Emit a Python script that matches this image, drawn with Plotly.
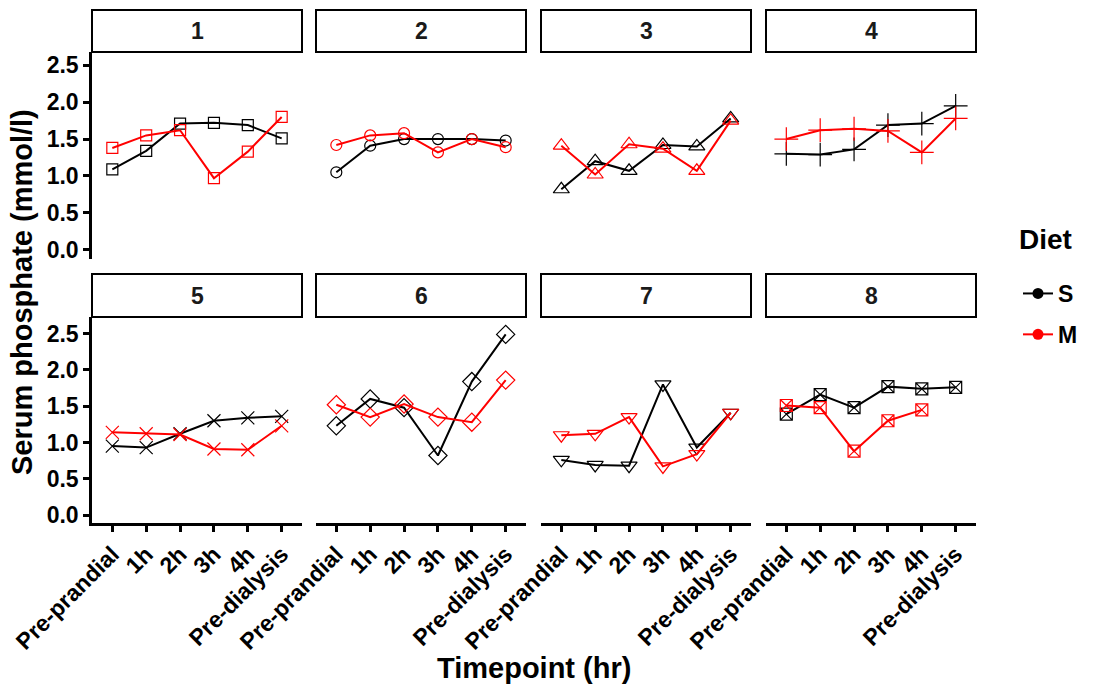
import plotly.graph_objects as go

categories = ["Pre-prandial", "1h", "2h", "3h", "4h", "Pre-dialysis"]
panels = ["1", "2", "3", "4", "5", "6", "7", "8"]

s_p1 = [1.09, 1.34, 1.71, 1.72, 1.69, 1.51]
s_p2 = [1.05, 1.41, 1.50, 1.50, 1.50, 1.48]
s_p3 = [0.82, 1.20, 1.07, 1.42, 1.40, 1.78]
s_p4 = [1.30, 1.29, 1.36, 1.69, 1.71, 1.95]
s_p5 = [0.95, 0.93, 1.12, 1.30, 1.34, 1.36]
s_p6 = [1.23, 1.60, 1.48, 0.82, 1.84, 2.49]
s_p7 = [0.76, 0.69, 0.68, 1.80, 0.93, 1.41]
s_p8 = [1.39, 1.66, 1.48, 1.77, 1.74, 1.76]

m_p1 = [1.38, 1.55, 1.62, 0.97, 1.33, 1.80]
m_p2 = [1.42, 1.55, 1.58, 1.32, 1.50, 1.39]
m_p3 = [1.41, 1.02, 1.43, 1.37, 1.07, 1.75]
m_p4 = [1.50, 1.62, 1.64, 1.61, 1.32, 1.78]
m_p5 = [1.14, 1.12, 1.11, 0.91, 0.90, 1.23]
m_p6 = [1.52, 1.35, 1.53, 1.35, 1.28, 1.86]
m_p7 = [1.10, 1.12, 1.35, 0.67, 0.84, 1.41]
m_p8 = [1.51, 1.48, 0.88, 1.30, 1.45, None]

s_series = [s_p1, s_p2, s_p3, s_p4, s_p5, s_p6, s_p7, s_p8]
m_series = [m_p1, m_p2, m_p3, m_p4, m_p5, m_p6, m_p7, m_p8]

symbols = ["square-open", "circle-open", "triangle-up-open", "cross-thin-open",
           "x-thin-open", "diamond-open", "triangle-down-open", "square-x-open"]
sizes = [11, 11, 14, 17, 13, 14, 14, 12]

y_ticks = [0.0, 0.5, 1.0, 1.5, 2.0, 2.5]

W, H = 1096, 688
col_px = [(92, 302), (316, 526), (541, 751), (766, 976)]
row_px = [(52, 259), (317, 523)]
strip_px = [(10, 52), (274, 317)]

FONT = "Liberation Sans, Arial, sans-serif"

fig = go.Figure()
layout = {}
shapes = []
annotations = []

for i in range(8):
    r, c = divmod(i, 4)
    xa = "x" if i == 0 else f"x{i+1}"
    ya = "y" if i == 0 else f"y{i+1}"
    xk = "xaxis" if i == 0 else f"xaxis{i+1}"
    yk = "yaxis" if i == 0 else f"yaxis{i+1}"
    x0, x1 = col_px[c]
    y0, y1 = row_px[r]
    bottom = (r == 1)
    left = (c == 0)
    layout[xk] = dict(
        domain=[x0 / W, x1 / W], anchor=ya, type="category",
        categoryorder="array", categoryarray=categories,
        range=[-0.6, 5.6], showgrid=False, zeroline=False,
        showline=bottom, linecolor="black", linewidth=2.5,
        ticks="outside" if bottom else "", ticklen=6, tickwidth=2.5, tickcolor="black",
        showticklabels=bottom, tickangle=-45,
        tickfont=dict(family=FONT, size=23, color="black", weight="bold"),
        automargin=False,
    )
    layout[yk] = dict(
        domain=[1 - y1 / H, 1 - y0 / H], anchor=xa,
        range=[-0.125, 2.68] if r == 0 else [-0.11, 2.73],
        tickvals=y_ticks, tickformat=".1f", showgrid=False, zeroline=False,
        showline=left, linecolor="black", linewidth=2.5,
        ticks="outside" if left else "", ticklen=6, tickwidth=2.5, tickcolor="black",
        showticklabels=left,
        tickfont=dict(family=FONT, size=23, color="black", weight="bold"),
        automargin=False,
    )
    for vals, color in ((s_series[i], "black"), (m_series[i], "red")):
        fig.add_trace(go.Scatter(
            x=categories, y=vals, xaxis=xa, yaxis=ya, mode="lines+markers",
            line=dict(color=color, width=2),
            marker=dict(symbol=symbols[i], size=sizes[i], color=color,
                        line=dict(color=color, width=1.2)),
            showlegend=False, hoverinfo="skip",
        ))
    sy0, sy1 = strip_px[r]
    shapes.append(dict(type="rect", xref="paper", yref="paper",
                       x0=x0 / W, x1=x1 / W, y0=1 - sy1 / H, y1=1 - sy0 / H,
                       line=dict(color="black", width=2), fillcolor="white"))
    annotations.append(dict(text=panels[i], xref="paper", yref="paper",
                            x=(x0 + x1) / 2 / W, y=1 - (sy0 + sy1) / 2 / H,
                            showarrow=False, xanchor="center", yanchor="middle",
                            font=dict(family=FONT, size=23, color="#1a1a1a", weight="bold")))

# legend entries
for name, color in (("S", "black"), ("M", "red")):
    fig.add_trace(go.Scatter(
        x=[None], y=[None], mode="lines+markers", name=name, legendgroup=name,
        line=dict(color=color, width=2),
        marker=dict(symbol="circle", size=11, color=color),
    ))

annotations.append(dict(text="Diet", xref="paper", yref="paper",
                        x=1017 / W, y=1 - 240 / H, showarrow=False,
                        xanchor="left", yanchor="middle",
                        font=dict(family=FONT, size=28, color="black", weight="bold")))
annotations.append(dict(text="Serum phosphate (mmol/l)", xref="paper", yref="paper",
                        x=22 / W, y=1 - 292 / H, textangle=-90, showarrow=False,
                        xanchor="center", yanchor="middle",
                        font=dict(family=FONT, size=29, color="black", weight="bold")))
annotations.append(dict(text="Timepoint (hr)", xref="paper", yref="paper",
                        x=534 / W, y=1 - 668 / H, showarrow=False,
                        xanchor="center", yanchor="middle",
                        font=dict(family=FONT, size=29, color="black", weight="bold")))

fig.update_layout(
    width=W, height=H,
    margin=dict(l=0, r=0, t=0, b=0),
    paper_bgcolor="white", plot_bgcolor="white",
    shapes=shapes, annotations=annotations,
    legend=dict(
        x=1018 / W, y=1 - 272 / H, xanchor="left", yanchor="top",
        font=dict(family=FONT, size=23, color="black", weight="bold"),
        tracegroupgap=8, bgcolor="rgba(0,0,0,0)",
    ),
    **layout,
)

fig.write_html("out.html")
